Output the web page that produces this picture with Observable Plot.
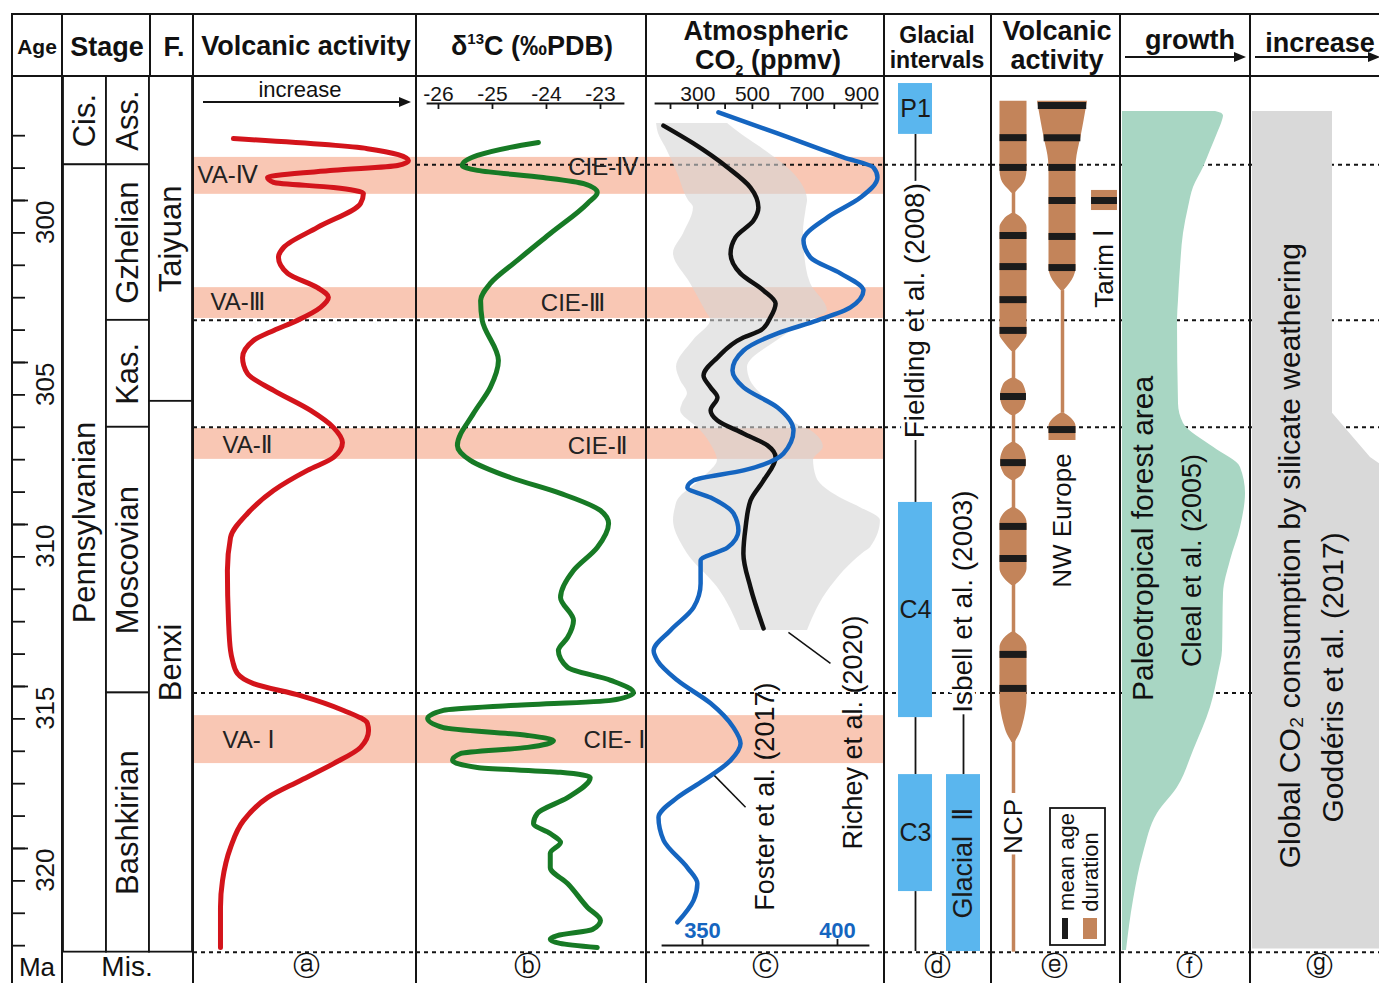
<!DOCTYPE html>
<html><head><meta charset="utf-8">
<script src="https://cdn.jsdelivr.net/npm/d3@7"></script>
<script src="https://cdn.jsdelivr.net/npm/@observablehq/plot@0.6"></script>
<style>
body{margin:0;background:#fff;}
#fig{position:relative;width:1379px;height:983px;overflow:hidden;background:#fff;font-family:"Liberation Sans",Arial,"DejaVu Sans",sans-serif;color:#111;}
.pl{position:absolute;}
.pl svg{max-width:none !important;overflow:visible;display:block;}
</style></head><body><div id="fig"></div><script>
// ================= DATA =================
const stageBoundaries = [298.9, 303.7, 307.0, 315.2, 323.2];
const ageTicks = d3.range(298, 324);
const ageLabels = [300, 305, 310, 315, 320];
const stratCells = [
  {col:"Series", name:"Cis.", top:296.17, bottom:298.9},
  {col:"Series", name:"Pennsylvanian", top:298.9, bottom:323.2},
  {col:"Stage", name:"Ass.", top:296.17, bottom:298.9},
  {col:"Stage", name:"Gzhelian", top:298.9, bottom:303.7},
  {col:"Stage", name:"Kas.", top:303.7, bottom:307.0},
  {col:"Stage", name:"Moscovian", top:307.0, bottom:315.2},
  {col:"Stage", name:"Bashkirian", top:315.2, bottom:323.2},
  {col:"Formation", name:"Taiyuan", top:296.17, bottom:306.2},
  {col:"Formation", name:"Benxi", top:306.2, bottom:323.2}
];
const stratLabelAge = {Pennsylvanian: 309.94, Benxi: 314.26};

const eventBands = [
  {top:298.67, bottom:299.81}, {top:302.69, bottom:303.64},
  {top:307.04, bottom:307.99}, {top:315.90, bottom:317.38}
];
const vaLabels = [
  {text:"VA-Ⅳ", age:299.23, v:1.8}, {text:"VA-Ⅲ", age:303.15, v:7.6},
  {text:"VA-Ⅱ", age:307.56, v:13}, {text:"VA- Ⅰ", age:316.67, v:13}
];
const cieLabels = [
  {text:"CIE-Ⅳ", age:298.98, d:-22.30}, {text:"CIE-Ⅲ", age:303.18, d:-22.91},
  {text:"CIE-Ⅱ", age:307.59, d:-22.50}, {text:"CIE- Ⅰ", age:316.67, d:-22.17}
];

// (a) volcanic activity, relative intensity 0-100  [age, value]
const volcanicCurve = [[298.09,17.9],[298.40,78.0],[298.77,96.4],[298.92,91.5],[299.07,62.8],[299.29,33.2],[299.44,35.9],[299.60,62.8],[299.78,76.2],[300.09,74.9],[300.83,55.6],[301.45,40.4],[301.76,38.1],[302.25,42.2],[302.69,55.6],[302.99,60.5],[303.30,57.0],[303.70,46.6],[304.01,36.0],[304.32,26.9],[304.85,22.0],[305.34,24.2],[305.86,35.9],[306.48,52.5],[307.01,62.8],[307.47,66.8],[307.93,62.8],[308.33,51.1],[308.95,35.9],[309.66,24.2],[310.40,16.6],[311.42,15.2],[312.96,15.7],[313.89,16.6],[314.20,17.5],[314.60,19.7],[314.91,26.9],[315.28,48.0],[315.74,67.3],[316.14,78.0],[316.36,78.5],[316.88,74.9],[317.38,62.8],[317.90,48.0],[318.43,33.2],[319.14,22.4],[319.97,16.6],[320.99,13.0],[321.82,12.1],[323.06,12.1]];

// (b) d13C permil PDB  [age, d13C]
const d13Ticks = [-26, -25, -24, -23];
const d13CCurve = [[298.21,-24.15],[298.36,-24.67],[298.61,-25.28],[298.92,-25.56],[299.07,-25.28],[299.29,-24.06],[299.48,-23.31],[299.75,-23.06],[300.09,-23.24],[301.02,-23.93],[301.85,-24.54],[302.56,-25.04],[303.09,-25.22],[303.70,-25.19],[304.94,-24.89],[305.77,-25.04],[306.57,-25.35],[307.56,-25.65],[308.02,-25.41],[308.55,-24.67],[309.04,-23.74],[309.57,-23.00],[309.97,-22.85],[310.71,-23.06],[311.42,-23.50],[312.25,-23.74],[312.96,-23.50],[313.49,-23.61],[313.89,-23.78],[314.41,-23.61],[314.81,-22.81],[315.19,-22.39],[315.43,-22.81],[315.59,-24.67],[315.74,-25.91],[315.99,-26.20],[316.27,-25.91],[316.51,-24.35],[316.67,-23.87],[316.88,-24.35],[317.07,-25.59],[317.28,-25.74],[317.50,-25.28],[317.65,-23.74],[317.81,-23.19],[318.43,-23.61],[318.92,-24.17],[319.23,-24.24],[319.54,-23.93],[319.81,-23.74],[320.15,-23.93],[320.59,-23.93],[321.08,-23.61],[321.82,-23.24],[322.22,-23.00],[322.50,-23.15],[322.69,-23.80],[322.80,-23.93],[322.93,-23.75],[323.06,-23.06]];

// (c) atmospheric CO2 (ppmv)
const co2Ticks = [200, 300, 400, 500, 600, 700, 800, 900];
const co2Labels = [300, 500, 700, 900];
const fosterTicks = [350, 400];
const richeyCurve = [[297.69,174],[298.24,284],[298.98,409],[299.60,493],[300.22,522],[300.62,504],[301.14,438],[301.64,420],[302.25,456],[302.78,541],[303.18,585],[303.61,566],[304.01,530],[304.23,467],[304.85,372],[305.40,321],[305.77,347],[306.08,372],[306.48,347],[306.79,372],[307.19,467],[307.56,555],[307.93,585],[308.64,541],[309.26,493],[310.09,475],[310.90,467],[311.94,493],[313.21,541]];
const richeyRange = [[297.62,149,409],[297.93,156,456],[298.36,182,530],[299.17,226,651],[300.00,266,702],[300.22,284,698],[301.02,248,687],[301.64,211,691],[302.56,273,713],[303.40,328,775],[303.70,347,713],[304.32,284,592],[305.15,222,482],[305.56,237,493],[305.96,262,530],[306.27,244,566],[306.48,237,603],[307.01,299,687],[307.10,310,713],[307.62,354,760],[308.02,372,724],[308.55,321,735],[309.26,226,841],[309.48,218,896],[309.88,211,969],[310.71,248,933],[310.90,262,903],[311.94,372,786],[313.27,456,702]];
const fosterCurve = [[297.28,355.9],[297.93,377.8],[298.67,402.2],[298.98,413.3],[299.29,414.8],[299.91,408.5],[300.52,396.3],[301.23,387.4],[301.76,390.0],[302.25,401.1],[302.78,409.6],[303.30,404.8],[303.70,392.6],[304.10,377.8],[304.63,365.2],[305.25,361.1],[305.77,365.2],[306.39,377.8],[307.10,383.7],[307.81,380.0],[308.33,365.2],[308.64,346.7],[308.86,344.4],[309.17,353.0],[309.66,361.5],[310.19,363.3],[310.71,359.3],[311.11,349.3],[311.82,349.3],[312.56,346.7],[313.27,338.1],[313.89,331.9],[314.20,333.3],[314.81,340.7],[315.52,353.0],[316.27,361.5],[316.76,364.1],[317.28,360.4],[317.90,350.4],[318.43,340.7],[319.04,333.7],[319.75,335.6],[320.59,344.4],[321.08,348.1],[321.60,346.7],[322.28,340.7]];
const co2Sources = [
  {text:"Foster et al. (2017)", co2:548, age:318.40, from:[354,317.69], to:[475,318.73]},
  {text:"Richey et al. (2020)", co2:870, age:316.42, from:[632,313.33], to:[786,314.29]}
];

// (d) glacial intervals
const glacialBoxes = [
  {ref:"Fielding", name:"P1", start:296.39, end:297.96},
  {ref:"Fielding", name:"C4", start:309.32, end:315.96},
  {ref:"Fielding", name:"C3", start:317.72, end:321.33},
  {ref:"Isbell", name:"Glacial  Ⅱ", start:317.72, end:323.18}
];
const glacialLinks = [
  {ref:"Fielding", start:297.96, end:299.48}, {ref:"Fielding", start:307.31, end:309.32},
  {ref:"Fielding", start:315.96, end:317.72}, {ref:"Fielding", start:321.33, end:323.18},
  {ref:"Isbell", start:315.83, end:317.72}
];
const glacialSources = [
  {ref:"Fielding", text:"Fielding et al. (2008)", age:303.40},
  {ref:"Isbell", text:"Isbell et al. (2003)", age:312.38}
];

// (e) volcanic activity: duration outline [age, relative half-width], mean ages
const ncpSegments = [
  [[296.94,1.0],[299.07,1.0],[299.35,0.9],[299.54,0.65],[299.69,0.3],[299.78,0.12]],
  [[300.40,0.12],[300.49,0.45],[300.62,0.75],[300.83,1.0],[304.17,1.0],[304.32,0.8],[304.48,0.5],[304.66,0.12]],
  [[305.49,0.12],[305.59,0.55],[305.74,0.8],[306.05,0.96],[306.36,0.8],[306.51,0.55],[306.64,0.12]],
  [[307.47,0.12],[307.59,0.55],[307.75,0.8],[308.06,0.96],[308.36,0.8],[308.52,0.55],[308.64,0.12]],
  [[309.48,0.12],[309.60,0.55],[309.75,0.85],[309.94,1.0],[311.36,1.0],[311.57,0.85],[311.73,0.55],[311.88,0.12]],
  [[313.33,0.12],[313.46,0.55],[313.61,0.85],[313.80,1.0],[315.43,1.0],[315.80,0.9],[316.17,0.7],[316.48,0.45],[316.67,0.2],[316.73,0.12]]
];
const ncpMeanAges = [298.06,298.98,301.08,302.04,303.06,304.01,306.05,308.09,310.06,311.05,314.01,315.06];
const ncpLinks = [[299.75,318.30],[320.20,323.20]];
const nweSegments = [
  [[296.94,1.85],[297.53,1.6],[298.06,1.36],[298.46,1.15],[298.77,1.03],[299.07,1.0],[302.10,1.0],[302.35,0.85],[302.56,0.55],[302.72,0.25],[302.78,0.12]],
  [[306.57,0.12],[306.67,0.5],[306.79,0.8],[306.98,1.0],[307.41,1.0]]
];
const nweMeanAges = [297.07,298.06,298.98,300.0,301.11,302.07,307.07];
const nweLinks = [[302.78,306.57]];
const tarimSegments = [[[299.69,0.96],[300.31,0.96]]];
const tarimMeanAges = [300.0];
const regionLabels = {NCP:319.32, "NW Europe":309.88, "Tarim Ⅰ":302.10};

// (f) paleotropical forest area [age, relative area]
const forestArea = [[297.25,93],[297.31,99],[297.40,101],[297.53,100],[297.93,95],[298.46,88],[298.98,81],[299.60,71],[300.22,66],[301.02,61],[302.07,58],[303.09,56],[303.70,55],[306.27,56],[306.88,61],[307.62,91],[308.24,118],[309.04,123],[310.09,118],[311.11,108],[312.13,101],[313.89,100],[314.60,96],[315.65,88],[316.98,71],[318.12,55],[318.92,35],[320.15,21],[321.60,11],[323.15,4]];
const forestLabels = [{text:"Paleotropical forest area", x:21, age:310.43, size:30},{text:"Cleal et al. (2005)", x:70, age:311.11, size:27}];

// (g) global CO2 consumption by silicate weathering [age, relative]
const weathering = [[297.25,80],[306.57,80],[307.93,118],[308.30,135],[323.10,135]];
const weatheringLabels = [{text:"Global CO₂ consumption by silicate weathering", x:38, age:310.96},{text:"Goddéris et al. (2017)", x:81, age:314.72}];

// ================= LAYOUT / STYLE =================
const FONT = '"Liberation Sans", Arial, "DejaVu Sans", sans-serif';
const AGE_TOP = 296.173, AGE_BOT = 323.18, TOP = 76, PH = 875;
const PINK = "#f9c7b4", BROWN = "#c3845a", INK = "#141414";
const fig = document.getElementById("fig");
const Y = {domain:[AGE_TOP, AGE_BOT], range:[0, PH], axis:null};
const dotted = (data) => Plot.ruleY(data, {stroke:INK, strokeWidth:2, strokeDasharray:"4,4"});

function place(node, left, top, w, h) {
  const d = document.createElement("div");
  d.className = "pl";
  d.style.cssText = `left:${left}px;top:${top}px;width:${w}px;height:${h}px;`;
  d.appendChild(node); fig.appendChild(d);
}
function panel(left, top, width, height, opts) {
  const p = Plot.plot({width, height, marginTop:0, marginRight:0, marginBottom:0, marginLeft:0,
    style:`background:transparent;overflow:visible;max-width:none;font-family:${FONT};color:${INK};`, ...opts});
  place(p, left, top, width, height);
}
const flat = (segs) => segs.flatMap((s, i) => s.map(([age, hw]) => ({seg:i, age, hw})));
function hwAt(segs, age) {
  for (const s of segs) {
    if (age >= s[0][0] && age <= s[s.length-1][0]) {
      for (let i = 1; i < s.length; i++) if (age <= s[i][0]) {
        const [a0,h0] = s[i-1], [a1,h1] = s[i];
        return h0 + (h1-h0)*(age-a0)/(a1-a0);
      }
    }
  }
  return 1;
}

// Age column
panel(0, TOP, 62, PH, {marginRight:50, y:Y, marks:[
  Plot.axisY({anchor:"right", ticks:ageTicks, tickSize:12, tickFormat:()=>"", strokeWidth:1.8}),
  Plot.axisY({anchor:"right", ticks:ageLabels, tickSize:15, tickFormat:()=>"", strokeWidth:1.8}),
  Plot.text(ageLabels, {y:d=>d, text:d=>String(d), frameAnchor:"right", dx:33, rotate:-90, fontSize:26})
]});

// Stage / formation columns
panel(62, TOP, 131, PH, {x:{type:"band", domain:["Series","Stage","Formation"], range:[0,131], padding:0, axis:null}, y:Y, marks:[
  Plot.barY(stratCells, {x:"col", y1:"top", y2:"bottom", fill:"white", stroke:INK, strokeWidth:1.8}),
  Plot.text(stratCells, {x:"col", y:d=>stratLabelAge[d.name] ?? (d.top+d.bottom)/2, text:"name", rotate:-90, fontSize:31})
]});

// (a)
panel(193, TOP, 223, PH, {x:{domain:[0,100], range:[0,223], axis:null}, y:Y, marks:[
  Plot.rect(eventBands, {y1:"top", y2:"bottom", fill:PINK}),
  dotted(stageBoundaries.filter(d => d !== 298.9)),
  Plot.line(volcanicCurve, {x:d=>d[1], y:d=>d[0], curve:"monotone-y", stroke:"#d3141b", strokeWidth:5}),
  Plot.text(vaLabels, {x:"v", y:"age", text:"text", textAnchor:"start", fontSize:24, fill:"#222"})
]});

// (b)
const xB = {domain:[-26.407,-22.148], range:[0,230], axis:null};
panel(416, TOP, 230, PH, {x:xB, y:Y, marks:[
  Plot.rect(eventBands, {y1:"top", y2:"bottom", fill:PINK}),
  dotted(stageBoundaries),
  Plot.line(d13CCurve, {x:d=>d[1], y:d=>d[0], curve:"monotone-y", stroke:"#177a25", strokeWidth:5}),
  Plot.text(cieLabels, {x:"d", y:"age", text:"text", textAnchor:"end", fontSize:24, fill:"#222"})
]});
panel(416, TOP, 230, 40, {marginTop:27, marginBottom:3, marginLeft:11, marginRight:23, x:xB, marks:[
  Plot.frame({anchor:"top", strokeWidth:1.8}),
  Plot.axisX({anchor:"top", ticks:d13Ticks, tickSize:-5, tickPadding:8, fontSize:21, strokeWidth:1.8, tickFormat:d=>String(d)})
]});

// (c)
const xC = {domain:[112.1,983.9], range:[0,238], axis:null};
const xF = {domain:[329.26,417.41], range:[0,238], axis:null};
panel(646, TOP, 238, PH, {x:xC, y:Y, marks:[
  Plot.rect(eventBands, {y1:"top", y2:"bottom", fill:PINK}),
  dotted(stageBoundaries),
  Plot.areaX(richeyRange, {y:d=>d[0], x1:d=>d[1], x2:d=>d[2], curve:"monotone-y", fill:"#d6d6d6", fillOpacity:0.6}),
  Plot.line(richeyCurve, {x:d=>d[1], y:d=>d[0], curve:"monotone-y", stroke:"#111", strokeWidth:4.5}),
  Plot.link(co2Sources, {x1:d=>d.from[0], y1:d=>d.from[1], x2:d=>d.to[0], y2:d=>d.to[1], stroke:"#111", strokeWidth:1.5}),
  Plot.text(co2Sources, {x:"co2", y:"age", text:"text", rotate:-90, fontSize:27, fill:"#111"})
]});
panel(646, TOP, 238, PH, {x:xF, y:Y, marks:[
  Plot.line(fosterCurve, {x:d=>d[1], y:d=>d[0], curve:"monotone-y", stroke:"#1565c0", strokeWidth:4.5})
]});
panel(646, TOP, 238, 40, {marginTop:27, marginBottom:3, marginLeft:9, marginRight:7, x:xC, marks:[
  Plot.frame({anchor:"top", strokeWidth:1.8}),
  Plot.axisX({anchor:"top", ticks:co2Ticks, tickSize:-5, tickPadding:8, fontSize:21, strokeWidth:1.8, tickFormat:d=>co2Labels.includes(d) ? String(d) : ""})
]});
panel(646, 891, 238, 60, {marginTop:54, marginBottom:0, marginLeft:16, marginRight:16, x:xF, marks:[
  Plot.frame({anchor:"top", strokeWidth:1.8}),
  Plot.axisX({anchor:"top", ticks:fosterTicks, tickSize:7, tickPadding:1, fontSize:22, fontWeight:"bold", fill:"#1565c0", stroke:INK, strokeWidth:1.8, tickFormat:d=>String(d)})
]});

// (d)
panel(884, TOP, 107, PH, {x:{type:"band", domain:["Fielding","Isbell"], range:[14,96], paddingInner:0.2917, paddingOuter:0, axis:null}, y:Y, marks:[
  dotted(stageBoundaries),
  Plot.ruleX(glacialLinks, {x:"ref", y1:"start", y2:"end", stroke:INK, strokeWidth:1.8}),
  Plot.barY(glacialBoxes, {x:"ref", y1:"start", y2:"end", fill:"#5ab6ee"}),
  Plot.text(glacialBoxes.filter(d => d.ref === "Fielding"), {x:"ref", y:d=>(d.start+d.end)/2, text:"name", fontSize:25, fill:"#1a1a1a"}),
  Plot.text(glacialBoxes.filter(d => d.ref === "Isbell"), {x:"ref", y:d=>(d.start+d.end)/2, text:"name", rotate:-90, fontSize:27, fill:"#1a1a1a"}),
  Plot.text(glacialSources, {x:"ref", y:"age", text:"text", rotate:-90, fontSize:28, fill:"#111", stroke:"white", strokeWidth:8, paintOrder:"stroke"})
]});

// (e)
panel(991, TOP, 129, PH, {y:Y, marks:[dotted(stageBoundaries)]});
function region(left, name, segs, means, links) {
  panel(left, TOP, 60, PH, {x:{domain:[-2.222,2.222], range:[0,60], axis:null}, y:Y, marks:[
    Plot.ruleX(links, {x:0, y1:d=>d[0], y2:d=>d[1], stroke:BROWN, strokeWidth:3.5}),
    Plot.areaX(flat(segs), {y:"age", x1:d=>-d.hw, x2:"hw", z:"seg", fill:BROWN, curve:"monotone-y"}),
    Plot.ruleY(means, {y:d=>d, x1:d=>-hwAt(segs,d), x2:d=>hwAt(segs,d), stroke:"#1b1b1b", strokeWidth:7}),
    Plot.text([name], {x:0, y:d=>regionLabels[d], text:d=>d, rotate:-90, fontSize:26, fill:"#111"})
  ]});
}
region(983, "NCP", ncpSegments, ncpMeanAges, ncpLinks);
region(1032, "NW Europe", nweSegments, nweMeanAges, nweLinks);
region(1074, "Tarim Ⅰ", tarimSegments, tarimMeanAges, []);

// (f)
panel(1120, TOP, 130, PH, {x:{domain:[-2,128], range:[0,130], axis:null}, y:Y, marks:[
  dotted(stageBoundaries),
  Plot.areaX(forestArea, {y:d=>d[0], x:d=>d[1], curve:"monotone-y", fill:"#a8d6c3"}),
  Plot.text(forestLabels, {x:"x", y:"age", text:"text", rotate:-90, fontSize:d=>d.size, fill:"#111"})
]});

// (g)
panel(1250, TOP, 129, PH, {x:{domain:[-2,127], range:[0,129], axis:null}, y:Y, marks:[
  dotted(stageBoundaries),
  Plot.areaX(weathering, {y:d=>d[0], x:d=>d[1], curve:"linear", fill:"#d9d9d9"}),
  Plot.text(weatheringLabels, {x:"x", y:"age", text:"text", rotate:-90, fontSize:30, fill:"#111"})
]});

// ================= FRAME, HEADERS, FOOTER =================
function el(css, inner) { const e = document.createElement("div"); e.style.cssText = "position:absolute;" + css; e.innerHTML = inner; fig.appendChild(e); return e; }
function lab(inner, cx, cy, size, weight = "bold") {
  el(`left:${cx}px;top:${cy}px;transform:translate(-50%,-50%);font-size:${size}px;font-weight:${weight};white-space:nowrap;line-height:1;`, inner);
}
[12, 62, 193, 416, 646, 884, 991, 1120, 1250].forEach(x => el(`left:${x-1}px;top:13px;width:2px;height:970px;background:${INK};`, ""));
el(`left:149px;top:13px;width:2px;height:63px;background:${INK};`, "");
[13, 75].forEach(y => el(`left:11px;top:${y}px;width:1368px;height:2px;background:${INK};`, ""));

lab("Age", 37, 46, 21);
lab("Stage", 107, 47, 27);
lab("F.", 174, 47, 27);
lab("Volcanic activity", 306, 46, 27);
lab('δ<span style="font-size:15px;position:relative;top:-11px">13</span>C (‰PDB)', 532, 46, 27);
lab("Atmospheric", 766, 31, 27);
lab('CO<span style="font-size:14px;position:relative;top:6px">2</span> (ppmv)', 768, 60, 27);
lab("Glacial", 937, 35, 23);
lab("intervals", 937, 60, 23);
lab("Volcanic", 1057, 31, 27);
lab("activity", 1057, 60, 27);
lab("growth", 1190, 40, 27);
lab("increase", 1320, 43, 27);
lab("increase", 300, 90, 22, "normal");

lab("Ma", 37, 967, 26, "normal");
lab("Mis.", 127, 967, 28, "normal");
[["ⓐ",306],["ⓑ",527],["ⓒ",765],["ⓓ",937],["ⓔ",1054],["ⓕ",1189],["ⓖ",1319]].forEach(([t,x]) => lab(t, x, 966, 27, "normal"));

// arrows + legend
const arrow = (x1, x2, y) => `<line x1="${x1}" y1="${y}" x2="${x2-9}" y2="${y}" stroke="${INK}" stroke-width="2"/><polygon points="${x2},${y} ${x2-12},${y-5} ${x2-12},${y+5}" fill="${INK}"/>`;
el("left:0;top:0;", `<svg width="1379" height="983" style="position:absolute;left:0;top:0;overflow:visible" font-family='${FONT}'>
${arrow(203,411,102)}${arrow(1125,1246,57)}${arrow(1255,1380,57)}
<rect x="1050" y="808" width="55" height="137" fill="white" stroke="${INK}" stroke-width="1.8"/>
<rect x="1062" y="918" width="6" height="21" fill="#1b1b1b"/>
<rect x="1083" y="918" width="14" height="21" fill="${BROWN}"/>
<text transform="translate(1066,862) rotate(-90)" text-anchor="middle" dominant-baseline="central" font-size="22" fill="#111">mean age</text>
<text transform="translate(1090,872) rotate(-90)" text-anchor="middle" dominant-baseline="central" font-size="22" fill="#111">duration</text>
</svg>`);
</script></body></html>
